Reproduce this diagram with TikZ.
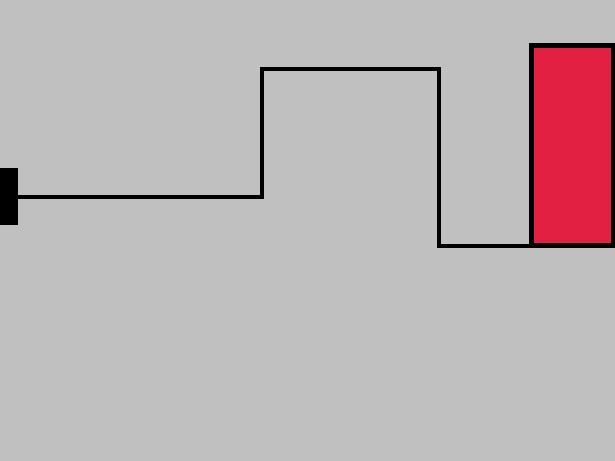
\documentclass[tikz,border=0pt]{standalone}
\usepackage{xcolor}
\definecolor{panelgray}{RGB}{192,192,192}
\definecolor{cellred}{RGB}{225,32,66}

\begin{document}
\begin{tikzpicture}[x=.75pt,y=-.75pt,
  wire/.style={line width=3pt},
  plug/.style={fill=black,inner sep=0pt,minimum width=13.5pt,minimum height=42.75pt},
  cell/.style={draw=black,fill=cellred,line width=3.75pt,inner sep=0pt,outer sep=0pt,
    minimum width=61.5pt,minimum height=150pt}]
  \useasboundingbox (0,0) rectangle (615,461);
  \clip (0,0) rectangle (615,461);
  \fill [panelgray] (0,0) rectangle (615,461);
  \node [plug] (plug) at (9,196.5) {};
  \node [cell] (cell) at (572.5,145.5) {};
  \coordinate (top) at (262,69);
  \coordinate (drop) at (439,245.5);
  \draw [wire] (plug.east) -| (top) -| (drop) -- (cell.south west);
\end{tikzpicture}
\end{document}
